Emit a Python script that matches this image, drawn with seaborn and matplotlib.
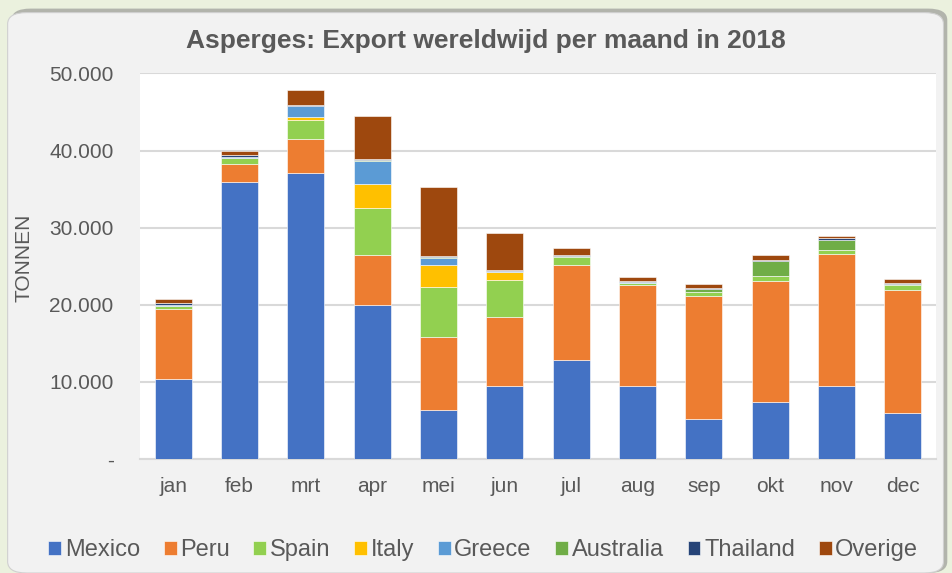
import numpy as np
import pandas as pd
import seaborn as sns
import matplotlib.pyplot as plt
from matplotlib.patches import FancyBboxPatch
from matplotlib.ticker import FuncFormatter

# Data (tonnen per maand, 2018)
months = ["jan", "feb", "mrt", "apr", "mei", "jun", "jul", "aug", "sep", "okt", "nov", "dec"]
mexico = [10400, 35900, 37100, 20000, 6300, 9500, 12800, 9400, 5200, 7450, 9500, 5900]
peru = [9000, 2400, 4400, 6400, 9550, 8850, 12300, 13100, 16000, 15600, 17100, 16000]
spain = [500, 800, 2450, 6100, 6500, 4850, 1100, 350, 500, 700, 550, 600]
italy = [0, 0, 400, 3150, 2800, 1100, 0, 0, 0, 0, 0, 0]
greece = [50, 50, 1400, 3050, 950, 100, 50, 50, 0, 0, 0, 0]
australia = [50, 50, 50, 50, 50, 0, 50, 50, 400, 1950, 1300, 200]
thailand = [200, 200, 150, 150, 200, 150, 150, 150, 100, 150, 150, 150]
overige = [550, 600, 1950, 5550, 8900, 4800, 850, 450, 450, 600, 300, 550]

series = ["Mexico", "Peru", "Spain", "Italy", "Greece", "Australia", "Thailand", "Overige"]
colors = ["#4472C4", "#ED7D31", "#92D050", "#FFC000", "#5B9BD5", "#70AD47", "#264478", "#9E480E"]

df = pd.DataFrame({"maand": months, "Mexico": mexico, "Peru": peru, "Spain": spain,
                   "Italy": italy, "Greece": greece, "Australia": australia,
                   "Thailand": thailand, "Overige": overige})

sns.set_style("white")
plt.rcParams["font.family"] = ["Liberation Sans", "DejaVu Sans"]

fig = plt.figure(figsize=(9.53, 5.73), dpi=100, facecolor="#ebf1de")

# grey rounded panel with a soft shadow
shadow = FancyBboxPatch((0.012, 0.0), 0.982, 0.985, boxstyle="round,pad=0,rounding_size=0.02",
                        transform=fig.transFigure, facecolor="#8c8c8c", edgecolor="none",
                        alpha=0.6, zorder=-2)
panel = FancyBboxPatch((0.008, 0.0), 0.982, 0.978, boxstyle="round,pad=0,rounding_size=0.02",
                       transform=fig.transFigure, facecolor="#f2f2f2", edgecolor="#d0d0d0",
                       linewidth=0.8, zorder=-1)
fig.patches.extend([shadow, panel])

ax = fig.add_axes([0.1469, 0.199, 0.8353, 0.6728])
ax.set_facecolor("white")

bottom = np.zeros(len(months))
for name, col in zip(series, colors):
    sns.barplot(data=df, x="maand", y=name, order=months, color=col, saturation=1,
                width=0.56, bottom=bottom, label=name, edgecolor="#ffffff",
                linewidth=0.4, ax=ax, zorder=3)
    bottom = bottom + df[name].values

handles, labels = ax.get_legend_handles_labels()
if ax.get_legend() is not None:
    ax.get_legend().remove()

ax.set_ylim(0, 50000)
ax.set_xlim(-0.5, 11.5)
ax.set_yticks(range(0, 50001, 10000))
ax.yaxis.set_major_formatter(FuncFormatter(
    lambda v, p: "-" if v == 0 else f"{int(v):,}".replace(",", ".")))
ax.grid(axis="y", color="#d9d9d9", linewidth=1.5, zorder=0)
ax.set_axisbelow(True)
for s in ["top", "right", "left"]:
    ax.spines[s].set_visible(False)
ax.spines["bottom"].set_color("#d9d9d9")
ax.spines["bottom"].set_linewidth(1.5)
ax.tick_params(axis="both", length=0, labelsize=15, colors="#595959")
ax.tick_params(axis="x", pad=13)
ax.tick_params(axis="y", pad=19)
ax.set_xlabel("")
ax.set_ylabel("")

fig.text(0.51, 0.928, "Asperges: Export wereldwijd per maand in 2018", ha="center", va="center",
         fontsize=19, fontweight="bold", color="#595959")
fig.text(0.0247, 0.55, "TONNEN", rotation=90, ha="center", va="center",
         fontsize=15, color="#595959")

fig.legend(handles, labels, loc="center", bbox_to_anchor=(0.507, 0.04), ncol=8,
           frameon=False, fontsize=17, handlelength=0.55, handleheight=0.55,
           handletextpad=0.15, columnspacing=1.0, labelcolor="#595959")

fig.savefig("out.png", dpi=100, facecolor=fig.get_facecolor())
